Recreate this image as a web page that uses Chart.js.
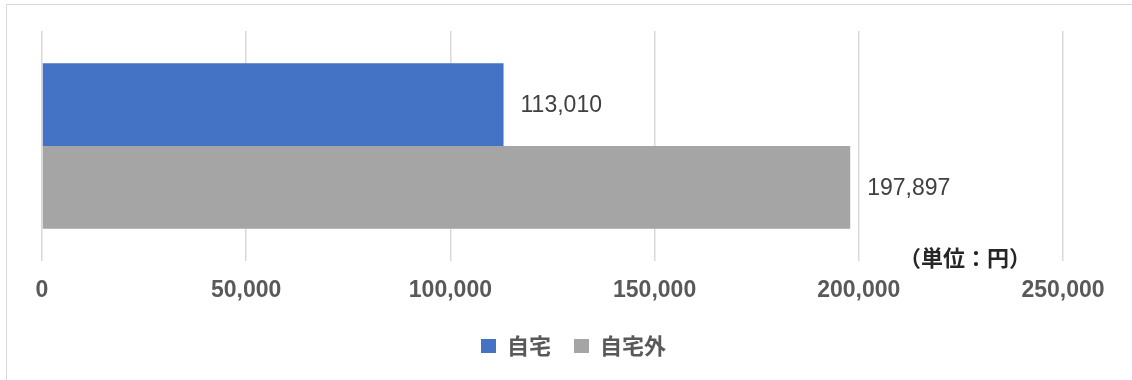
<!DOCTYPE html>
<html><head><meta charset="utf-8">
<script src="https://cdn.jsdelivr.net/npm/chart.js@4/dist/chart.umd.min.js"></script>
<style>
html,body{margin:0;padding:0;background:#fff;overflow:hidden;}
#wrap{position:relative;width:1132px;height:380px;overflow:hidden;}
#frame{position:absolute;left:6px;top:4px;width:1140px;height:400px;border:1.5px solid #d9d9d9;box-sizing:border-box;}
canvas{position:absolute;left:0;top:0;}
</style></head><body>
<div id="wrap"><div id="frame"></div><canvas id="c" width="1132" height="380"></canvas></div>
<script>
const categories = [''];
const seriesNames = ['自宅', '自宅外'];
const homeValues = [113010];
const awayValues = [197897];
const xTicks = [0, 50000, 100000, 150000, 200000, 250000];
const unitLabel = '（単位：円）';

const fmt = v => Number(v).toLocaleString('en-US');

const dataLabelPlugin = {
  id: 'dataLabels',
  afterDatasetsDraw(chart) {
    const ctx = chart.ctx;
    ctx.save();
    ctx.font = '23px "Liberation Sans", Arial, sans-serif';
    ctx.fillStyle = '#404040';
    ctx.textAlign = 'left';
    ctx.textBaseline = 'middle';
    chart.data.datasets.forEach((ds, i) => {
      const meta = chart.getDatasetMeta(i);
      meta.data.forEach((el, j) => {
        ctx.fillText(fmt(ds.data[j]), el.x + 17, el.y + 1);
      });
    });
    ctx.restore();
  }
};

const unitPlugin = {
  id: 'unitLabel',
  afterDraw(chart) {
    const ctx = chart.ctx;
    const xs = chart.scales.x;
    ctx.save();
    ctx.font = 'bold 22px "Noto Sans CJK JP", sans-serif';
    ctx.fillStyle = '#262626';
    ctx.textAlign = 'center';
    ctx.textBaseline = 'middle';
    ctx.fillText(unitLabel, xs.getPixelForValue(226000), chart.chartArea.bottom - 3);
    ctx.restore();
  }
};

const legendShift = {
  id: 'legendShift',
  afterLayout(chart) {
    if (chart.legend) { chart.legend.left += 21; chart.legend.right += 21; }
  }
};

new Chart(document.getElementById('c'), {
  type: 'bar',
  data: {
    labels: categories,
    datasets: [
      { label: seriesNames[0], data: homeValues, backgroundColor: '#4472C4', borderWidth: 0 },
      { label: seriesNames[1], data: awayValues, backgroundColor: '#A5A5A5', borderWidth: 0 }
    ]
  },
  options: {
    indexAxis: 'y',
    responsive: false,
    animation: false,
    devicePixelRatio: 1,
    layout: { padding: { left: 42, right: 69, top: 31, bottom: 13 } },
    datasets: { bar: { categoryPercentage: 0.72, barPercentage: 1 } },
    scales: {
      x: {
        min: xTicks[0],
        max: xTicks[xTicks.length - 1],
        afterBuildTicks(scale) { scale.ticks = xTicks.map(v => ({ value: v })); },
        afterFit(scale) { scale.height = 51; },
        border: { display: false },
        grid: { color: '#d9d9d9', lineWidth: 1.5, drawTicks: false },
        ticks: {
          padding: 16,
          color: '#595959',
          font: { family: '"Liberation Sans", Arial, sans-serif', size: 23, weight: 'bold' },
          callback: v => fmt(v)
        }
      },
      y: { display: false }
    },
    plugins: {
      legend: {
        position: 'bottom',
        labels: {
          boxWidth: 15,
          boxHeight: 14,
          padding: 23,
          color: '#595959',
          font: { family: '"Noto Sans CJK JP", sans-serif', size: 22, weight: 'bold' }
        }
      },
      tooltip: { enabled: false }
    }
  },
  plugins: [dataLabelPlugin, unitPlugin, legendShift]
});
</script>
</body></html>
